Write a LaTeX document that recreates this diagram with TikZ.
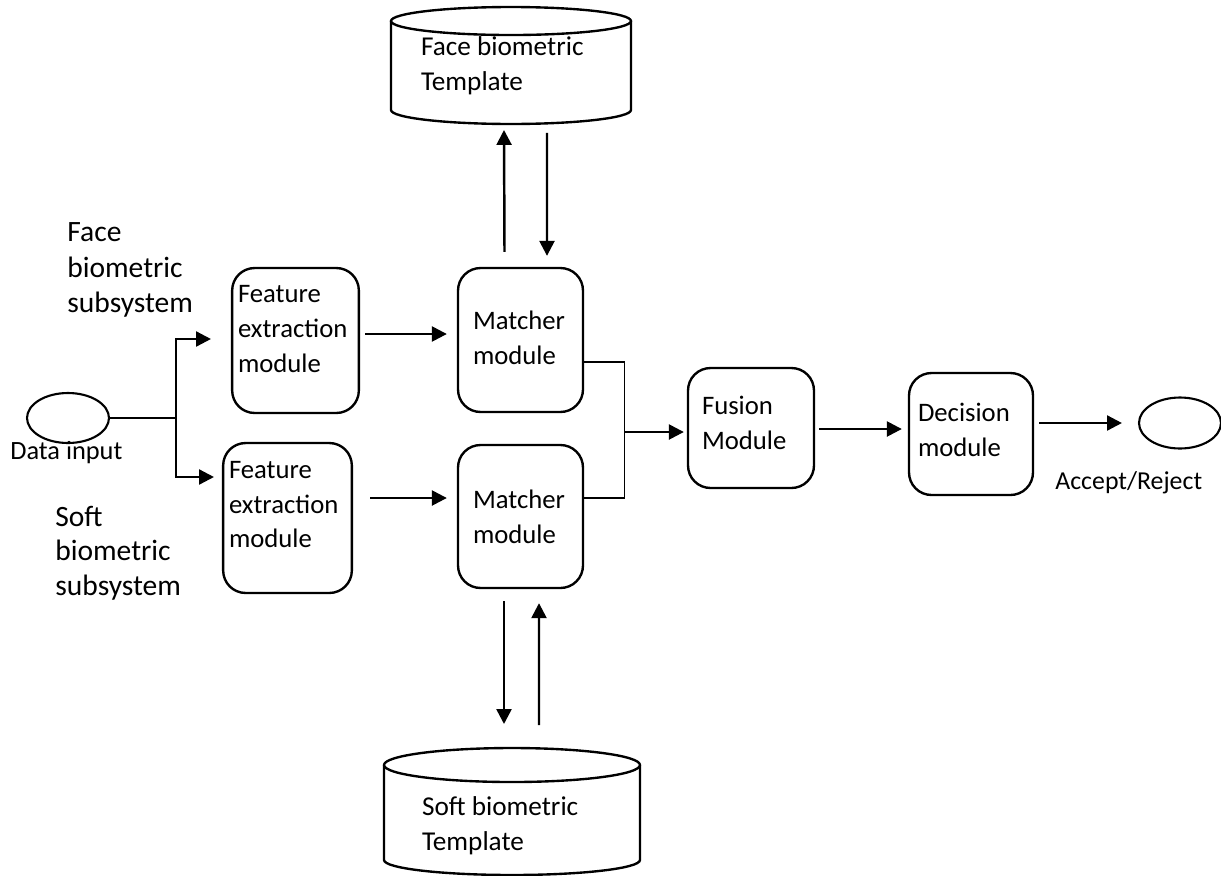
\documentclass[tikz,border=0pt]{standalone}
\usepackage{fontspec}
\setmainfont{Carlito}
\usetikzlibrary{shapes.geometric,arrows.meta,calc}

\begin{document}
\begin{tikzpicture}[x=0.02cm, y=-0.02cm,
  module/.style={draw, line width=1.35pt, rounded corners=0.45cm,
                 align=left, font=\fontsize{15.2}{19.8}\selectfont},
  store/.style={inner sep=0pt, outer sep=0pt, align=flush left, text width=3.6cm,
                font=\fontsize{15.5}{19.8}\selectfont},
  rim/.style={line width=1.35pt},
  term/.style={draw, line width=1.2pt, ellipse},
  lbl/.style={inner sep=0pt, align=left},
  arr/.style={->, line width=1.4pt, >={Triangle[length=8.5pt,width=8.5pt]}},
  wire/.style={line width=0.6pt}
]
  \useasboundingbox (0,0) rectangle (1221,876);
  % input and output
  \node[term, minimum width=1.64cm, minimum height=1cm] (din) at (68,418) {};
  \node[term, minimum width=1.64cm, minimum height=1.02cm] (dout) at (1180,423) {};
  \node[lbl, anchor=west, font=\fontsize{15}{18}\selectfont] (dinlbl) at (10,453) {Data input};
  \node[lbl, anchor=west, font=\fontsize{14.7}{18}\selectfont] (doutlbl) at (1055,483) {Accept/Reject};
  % subsystem labels
  \node[lbl, anchor=west, font=\fontsize{16.8}{20.2}\selectfont] (facesub) at (67,270) {Face\\biometric\\subsystem};
  \node[lbl, anchor=west, font=\fontsize{16.8}{19.5}\selectfont] (softsub) at (55,553) {Soft\\biometric\\subsystem};
  % modules
  \node[module, minimum width=2.5cm, minimum height=2.9cm, text width=2.3cm, text depth=53pt] (fe1) at (295.5,340.5) {Feature\\extraction\\module};
  \node[module, minimum width=2.5cm, minimum height=3cm, text width=2.34cm, text depth=55pt] (fe2) at (287.5,518) {Feature\\extraction\\module};
  \node[module, minimum width=2.5cm, minimum height=2.88cm, text width=1.9cm, text depth=22pt] (mt1) at (520.5,340) {Matcher\\module};
  \node[module, minimum width=2.5cm, minimum height=2.86cm, text width=1.9cm] (mt2) at (520.5,516.5) {Matcher\\module};
  \node[module, minimum width=2.52cm, minimum height=2.4cm, text width=1.96cm, text depth=25.5pt] (fus) at (751,428) {Fusion\\Module};
  \node[module, minimum width=2.48cm, minimum height=2.44cm, text width=2.12cm, text depth=24.5pt] (dec) at (971,434) {Decision\\module};
  % templates
  \node[store, minimum width=4.8cm, minimum height=1.78cm] (ftpl) at (511,65.5) {Face biometric\\Template};
  \node[store, minimum width=5.12cm, minimum height=1.9cm, text height=26pt] (stpl) at (512,812.5) {Soft biometric\\Template};
  \draw[rim] (ftpl.north west) -- (ftpl.south west)
    arc[start angle=180, end angle=360, x radius=2.4cm, y radius=0.28cm] -- (ftpl.north east);
  \draw[rim] (ftpl.north) ellipse [x radius=2.4cm, y radius=0.28cm];
  \draw[rim] (stpl.north west) -- (stpl.south west)
    arc[start angle=180, end angle=360, x radius=2.56cm, y radius=0.3cm] -- (stpl.north east);
  \draw[rim] (stpl.north) ellipse [x radius=2.56cm, y radius=0.34cm];

  % input split
  \coordinate (jn) at ($(din.east)+(66,0)$);
  \draw[wire] (din.east) -- ++(16,0);
  \draw[line width=1.4pt] ($(din.east)+(16,0)$) -- (jn);
  \draw[arr] (jn) |- ($(fe1.west)+(-20,-1.5)$);
  \draw[arr] (jn) |- ($(fe2.west)+(-8,-41)$);
  % features to matchers
  \draw[arr] ($(fe1.east)+(5,-6.5)$) -- ($(mt1.west)+(-10,-6)$);
  \draw[arr] ($(fe2.east)+(17,-20)$) -- ($(mt2.west)+(-10,-18.5)$);
  % matchers and templates
  \draw[arr] ($(mt1.north)+(-16,-15)$) -- ($(ftpl.south)+(-7,20)$);
  \draw[arr] ($(ftpl.south)+(36,23)$) -- ($(mt1.north)+(26.5,-11)$);
  \draw[arr] ($(mt2.south)+(-16.5,12)$) -- ($(stpl.north)+(-8,-41)$);
  \draw[arr] ($(stpl.north)+(27,-40)$) -- ($(mt2.south)+(18.5,14)$);
  % scores to fusion
  \coordinate (fj) at ($(fus.west)+(-62,4)$);
  \draw[wire] ($(mt1.east)+(0,22)$) -| (fj) |- ($(mt2.east)+(0,-18.5)$);
  \draw[arr] (fj) -- ($(fus.west)+(-3,4)$);
  \draw[arr] ($(fus.east)+(4,1)$) -- ($(dec.west)+(-6,-5)$);
  \draw[arr] ($(dec.east)+(5,-11)$) -- ($(dout.west)+(-16,0)$);
\end{tikzpicture}
\end{document}
